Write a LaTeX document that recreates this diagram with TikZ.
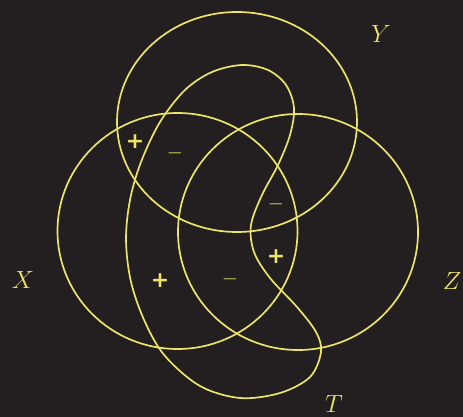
\documentclass[tikz,border=0pt]{standalone}
\usepackage{fontspec}
\newfontfamily\signfont{DejaVu Sans}
\begin{document}
\begin{tikzpicture}[x=1pt,y=-1pt,
  curve/.style={draw=vennyellow,line width=1.7pt},
  setlabel/.style={text=vennyellow,font=\fontsize{29}{30}\selectfont,inner sep=0pt},
  pluslabel/.style={text=vennyellow,font=\signfont\bfseries\fontsize{22}{24}\selectfont,inner sep=0pt},
  minuslabel/.style={text=vennyellow,font=\fontsize{20}{22}\selectfont,inner sep=0pt}]
\definecolor{vennyellow}{RGB}{236,228,104}
\definecolor{bgdark}{RGB}{35,31,32}
\fill[bgdark] (0,0) rectangle (463,417);
\useasboundingbox (0,0) rectangle (463,417);
% Y, X, Z
\draw[curve] (237,122) ellipse [x radius=120, y radius=110];
\draw[curve] (177.5,231) ellipse [x radius=120, y radius=118];
\draw[curve] (298,232) ellipse [x radius=120, y radius=118];
% T
\draw[curve] plot[smooth cycle, tension=0.55] coordinates {
 (242,65) (268,70) (286,85) (294,108) (290,135) (278,165) (262,195)
 (251,225) (254,252) (270,278) (297,307) (316,332) (321,352) (310,377)
 (280,393) (240,398) (200,386) (165,356) (145,322) (131,282) (126,240)
 (130,200) (141,162) (160,122) (185,90) (212,72)};
% labels
\node[setlabel] (ly) at (381,34) {$Y$};
\node[setlabel] (lx) at (23,280) {$X$};
\node[setlabel] (lz) at (452,281) {$Z$};
\node[setlabel] (lt) at (334,404) {$T$};
% signs
\node[pluslabel] (s1) at (135,142) {+};
\node[minuslabel] (s2) at (175,153) {$-$};
\node[minuslabel] (s3) at (276,204) {$-$};
\node[pluslabel] (s4) at (276,257) {+};
\node[pluslabel] (s5) at (160,281) {+};
\node[minuslabel] (s6) at (230,279) {$-$};
\end{tikzpicture}
\end{document}
